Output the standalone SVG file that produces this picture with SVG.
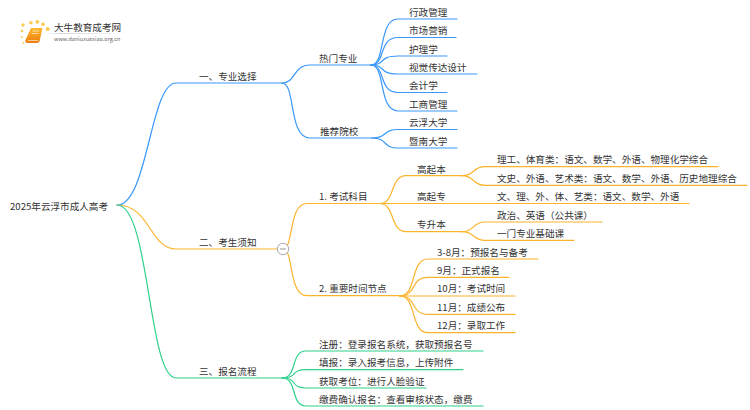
<svg xmlns="http://www.w3.org/2000/svg" width="750" height="410" viewBox="0 0 750 410">
<style>
text{font-family:"Noto Sans CJK SC","Liberation Sans",sans-serif;font-size:9.600px;fill:#333}
#connectors path{fill:none;stroke-width:1.2;stroke-linecap:round}
.b path{stroke:#3a98fb}.o path{stroke:#fbb42c}.g path{stroke:#2fd18b}
</style>
<defs>
<linearGradient id="bk" x1="0" y1="0" x2="0" y2="1"><stop offset="0" stop-color="#fdb92e"/><stop offset="1" stop-color="#ee7c0c"/></linearGradient>
<linearGradient id="lg"><stop offset="0" stop-color="#ccc" stop-opacity="0"/><stop offset=".2" stop-color="#ccc"/><stop offset="1" stop-color="#ccc" stop-opacity="0"/></linearGradient>
</defs>
<rect width="750" height="410" fill="#fff"/>
<g id="logo">
<g fill="#fcc94f"><circle cx="47.700" cy="29" r="2"/><circle cx="23" cy="25" r="1.700"/><circle cx="31" cy="22.800" r="1.800"/><circle cx="37.300" cy="21.800" r="1.900"/><circle cx="43" cy="24.300" r="1.800"/><circle cx="22" cy="31" r="1.300"/><circle cx="21.700" cy="37" r="1"/><circle cx="23.300" cy="42.700" r="1"/></g>
<path d="M31 28h11.500l-3 13.500q-1 1.500-3 1.500h-9q-3-1-2-3z" fill="url(#bk)"/><path d="M32.500 31h6.500M31.800 33.500h6.500M28 40.500h10" stroke="#fff" stroke-width=".6"/>
<rect x="45" y="33" width="88" height=".8" fill="url(#lg)"/>
<text x="54" y="30.500" style="font-size:9.600px">大牛教育成考网</text>
<text x="54" y="41" style="font-size:5.500px;fill:#666">www.daniuxuexiao.org.cn</text>
</g>
<g id="connectors">
<g class="b">
<path d="M117 205C148 205 150 83 176 83H282"/>
<path d="M282 83C296 83 293 65 310 65H371"/>
<path d="M282 83C296 83 288 138 310 138H372"/>
<path d="M371 65C386 65 378 19 398 19H457"/>
<path d="M371 65C386 65 378 37.500 398 37.500H456"/>
<path d="M371 65C386 65 378 56 398 56H447"/>
<path d="M371 65C386 65 378 74 398 74H477"/>
<path d="M371 65C386 65 378 92.500 398 92.500H447"/>
<path d="M371 65C386 65 378 111 398 111H457"/>
<path d="M372 138C388 138 382 129.500 398 129.500H457"/>
<path d="M372 138C388 138 382 148 398 148H457"/>
</g>
<g class="o">
<path d="M117 205C150 205 150 249 176 249H277"/>
<path d="M283 249C294 249 288 203.500 307 203.500H380"/>
<path d="M283 249C294 249 288 295.700 307 295.700H400"/>
<path d="M380 203.500C395 203.500 390 175.700 406 175.700H462"/>
<path d="M380 203.500H689"/>
<path d="M380 203.500C395 203.500 390 231.700 406 231.700H462"/>
<path d="M462 175.700C475 175.700 472 166.700 485 166.700H718"/>
<path d="M462 175.700C475 175.700 472 185.300 485 185.300H747"/>
<path d="M462 231.700C475 231.700 472 222 485 222H602"/>
<path d="M462 231.700C475 231.700 472 240.300 485 240.300H574"/>
<path d="M400 296C417 296 410 259 428 259H538"/>
<path d="M400 296C417 296 410 277.300 428 277.300H509"/>
<path d="M400 296H515"/>
<path d="M400 296C417 296 410 314.300 428 314.300H515"/>
<path d="M400 296C417 296 410 332.700 428 332.700H515"/>
</g>
<g class="g">
<path d="M117 205C150 205 148 378 176 378H282"/>
<path d="M282 378C298 378 290 351 306 351H483"/>
<path d="M282 378C298 378 290 369.700 306 369.700H463"/>
<path d="M282 378C298 378 290 388 306 388H426"/>
<path d="M282 378C298 378 290 406 306 406H483"/>
</g>
</g>
<g id="root"><text x="10" y="209.500">2025年云浮市成人高考</text></g>
<g id="n1"><text x="199" y="80">一、专业选择</text></g>
<g id="n1-1"><text x="319" y="61.500">热门专业</text></g>
<g id="n1-1-1"><text x="409" y="15.500">行政管理</text></g>
<g id="n1-1-2"><text x="409" y="34">市场营销</text></g>
<g id="n1-1-3"><text x="409" y="52.500">护理学</text></g>
<g id="n1-1-4"><text x="409" y="70.500">视觉传达设计</text></g>
<g id="n1-1-5"><text x="409" y="89">会计学</text></g>
<g id="n1-1-6"><text x="409" y="107.500">工商管理</text></g>
<g id="n1-2"><text x="320" y="135">推荐院校</text></g>
<g id="n1-2-1"><text x="409" y="126">云浮大学</text></g>
<g id="n1-2-2"><text x="409" y="144.500">暨南大学</text></g>
<g id="n2"><text x="199" y="245.500">二、考生须知</text></g>
<g id="n2-toggle"><circle cx="283" cy="249" r="5.700" fill="#fff" stroke="#aaa" stroke-width="1"/><path d="M280 249h6" stroke="#888" stroke-width=".9"/></g>
<g id="n2-1"><text x="319" y="199.500">1. 考试科目</text></g>
<g id="n2-1-1"><text x="417" y="172.500">高起本</text></g>
<g id="n2-1-1-1"><text x="497" y="163">理工、体育类：语文、数学、外语、物理化学综合</text></g>
<g id="n2-1-1-2"><text x="497" y="181.500">文史、外语、艺术类：语文、数学、外语、历史地理综合</text></g>
<g id="n2-1-2"><text x="417" y="200">高起专</text></g>
<g id="n2-1-2-1"><text x="497" y="200">文、理、外、体、艺类：语文、数学、外语</text></g>
<g id="n2-1-3"><text x="417" y="228">专升本</text></g>
<g id="n2-1-3-1"><text x="497" y="218.500">政治、英语（公共课）</text></g>
<g id="n2-1-3-2"><text x="497" y="236.500">一门专业基础课</text></g>
<g id="n2-2"><text x="319" y="292">2. 重要时间节点</text></g>
<g id="n2-2-1"><text x="437" y="255.500">3-8月：预报名与备考</text></g>
<g id="n2-2-2"><text x="437" y="274">9月：正式报名</text></g>
<g id="n2-2-3"><text x="437" y="292">10月：考试时间</text></g>
<g id="n2-2-4"><text x="437" y="310.500">11月：成绩公布</text></g>
<g id="n2-2-5"><text x="437" y="329">12月：录取工作</text></g>
<g id="n3"><text x="199" y="375">三、报名流程</text></g>
<g id="n3-1"><text x="319" y="347.500">注册：登录报名系统，获取预报名号</text></g>
<g id="n3-2"><text x="319" y="366">填报：录入报考信息，上传附件</text></g>
<g id="n3-3"><text x="319" y="384.500">获取考位：进行人脸验证</text></g>
<g id="n3-4"><text x="319" y="402.500">缴费确认报名：查看审核状态，缴费</text></g>
</svg>
